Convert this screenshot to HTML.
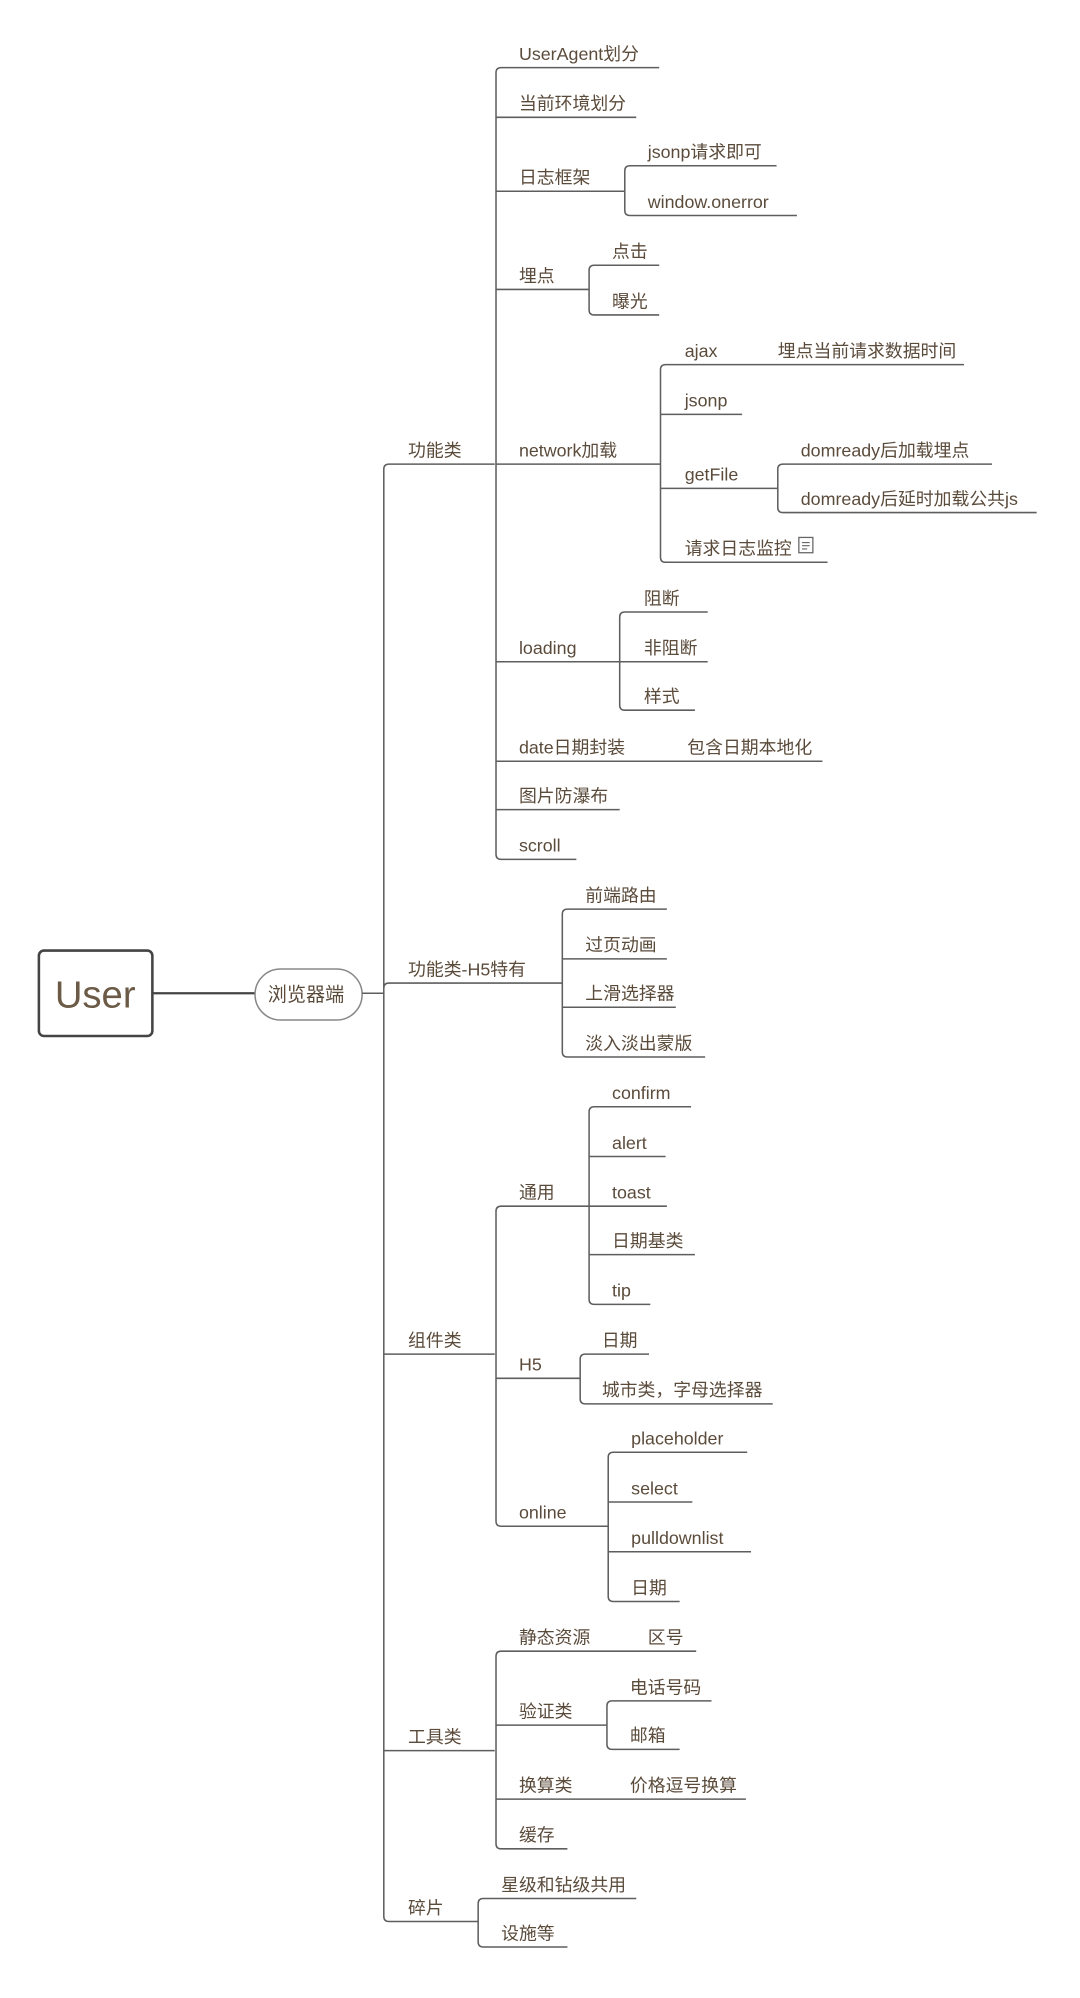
<!DOCTYPE html>
<html><head><meta charset="utf-8"><style>
html,body{margin:0;padding:0;background:#fff}
svg{display:block}
text{font-family:"Liberation Sans","Noto Sans CJK SC",sans-serif;font-size:14px;fill:#5b4b3b}
</style></head><body>
<svg width="1080" height="1998" viewBox="0 0 847 1567" preserveAspectRatio="none">
<g stroke="#5e5e5e" stroke-width="1.2" fill="none">
<!-- root -->
<rect x="30.5" y="745.5" width="89" height="67" rx="4" stroke="#444" stroke-width="2"/>
<line x1="120" y1="779" x2="200" y2="779" stroke="#444" stroke-width="1.8"/>
<rect x="200" y="760" width="84" height="40" rx="20" stroke="#888"/>
<line x1="284" y1="779" x2="301" y2="779"/>
<!-- trunk -->
<path d="M305 364 H388 M301 368 Q301 364 305 364 M301 368 V1503 Q301 1507 305 1507 H375"/>
<path d="M305 771 H441 M301 775 Q301 771 305 771"/>
<line x1="301" y1="1062" x2="388" y2="1062"/>
<line x1="301" y1="1373" x2="388" y2="1373"/>
<!-- 功能类 -->
<path d="M389 57 Q389 53 393 53 H517 M389 57 V670 Q389 674 393 674 H452"/>
<line x1="389" y1="92" x2="499" y2="92"/>
<line x1="389" y1="150" x2="490" y2="150"/>
<path d="M490 134 Q490 130 494 130 H609 M490 134 V165 Q490 169 494 169 H625"/>
<line x1="389" y1="227" x2="462" y2="227"/>
<path d="M462 212 Q462 208 466 208 H517 M462 212 V243 Q462 247 466 247 H517"/>
<line x1="389" y1="364" x2="518" y2="364"/>
<path d="M518 290 Q518 286 522 286 H756 M518 290 V437 Q518 441 522 441 H649"/>
<line x1="518" y1="325" x2="582" y2="325"/>
<line x1="518" y1="383" x2="610" y2="383"/>
<path d="M610 368 Q610 364 614 364 H778 M610 368 V398 Q610 402 614 402 H813"/>
<line x1="389" y1="519" x2="486" y2="519"/>
<path d="M486 484 Q486 480 490 480 H555 M486 484 V553 Q486 557 490 557 H545"/>
<line x1="486" y1="519" x2="555" y2="519"/>
<line x1="389" y1="597" x2="645" y2="597"/>
<line x1="389" y1="635" x2="486" y2="635"/>
<!-- H5特有 -->
<path d="M441 717 Q441 713 445 713 H523 M441 717 V825 Q441 829 445 829 H553"/>
<line x1="441" y1="752" x2="523" y2="752"/>
<line x1="441" y1="790" x2="530" y2="790"/>
<!-- 组件类 -->
<path d="M389 950 Q389 946 393 946 H462 M389 950 V1193 Q389 1197 393 1197 H477"/>
<line x1="389" y1="1081" x2="455" y2="1081"/>
<path d="M462 872 Q462 868 466 868 H542 M462 872 V1019 Q462 1023 466 1023 H510"/>
<line x1="462" y1="907" x2="522" y2="907"/>
<line x1="462" y1="946" x2="523" y2="946"/>
<line x1="462" y1="984" x2="545" y2="984"/>
<path d="M455 1066 Q455 1062 459 1062 H509 M455 1066 V1097 Q455 1101 459 1101 H606"/>
<path d="M477 1143 Q477 1139 481 1139 H586 M477 1143 V1252 Q477 1256 481 1256 H533"/>
<line x1="477" y1="1178" x2="543" y2="1178"/>
<line x1="477" y1="1217" x2="589" y2="1217"/>
<!-- 工具类 -->
<path d="M389 1299 Q389 1295 393 1295 H546 M389 1299 V1446 Q389 1450 393 1450 H445"/>
<line x1="389" y1="1353" x2="476" y2="1353"/>
<path d="M476 1338 Q476 1334 480 1334 H558 M476 1338 V1368 Q476 1372 480 1372 H533"/>
<line x1="389" y1="1411" x2="585" y2="1411"/>
<!-- 碎片 -->
<path d="M375 1493 Q375 1489 379 1489 H499 M375 1493 V1523 Q375 1527 379 1527 H445"/>
<!-- note icon -->
<rect x="626.5" y="421.5" width="11" height="12" stroke="#666" stroke-width="1"/>
<path d="M629 425.5 H635 M629 428 H635 M629 430.5 H633" stroke="#666" stroke-width="0.9"/>
</g>
<text x="43" y="790" style="font-size:30px;fill:#6b5a45">User</text>
<text x="210" y="785" style="font-size:15px">浏览器端</text>
<text x="320" y="358">功能类</text>
<text x="320" y="765">功能类-H5特有</text>
<text x="320" y="1056">组件类</text>
<text x="320" y="1367">工具类</text>
<text x="320" y="1501">碎片</text>
<text x="407" y="47">UserAgent划分</text>
<text x="407" y="86">当前环境划分</text>
<text x="407" y="144">日志框架</text>
<text x="508" y="124">jsonp请求即可</text>
<text x="508" y="163">window.onerror</text>
<text x="407" y="221">埋点</text>
<text x="480" y="202">点击</text>
<text x="480" y="241">曝光</text>
<text x="407" y="358">network加载</text>
<text x="537" y="280">ajax</text>
<text x="610" y="280">埋点当前请求数据时间</text>
<text x="537" y="319">jsonp</text>
<text x="537" y="377">getFile</text>
<text x="628" y="358">domready后加载埋点</text>
<text x="628" y="396">domready后延时加载公共js</text>
<text x="537" y="435">请求日志监控</text>
<text x="407" y="513">loading</text>
<text x="505" y="474">阻断</text>
<text x="505" y="513">非阻断</text>
<text x="505" y="551">样式</text>
<text x="407" y="591">date日期封装</text>
<text x="539" y="591">包含日期本地化</text>
<text x="407" y="629">图片防瀑布</text>
<text x="407" y="668">scroll</text>
<text x="459" y="707">前端路由</text>
<text x="459" y="746">过页动画</text>
<text x="459" y="784">上滑选择器</text>
<text x="459" y="823">淡入淡出蒙版</text>
<text x="407" y="940">通用</text>
<text x="480" y="862">confirm</text>
<text x="480" y="901">alert</text>
<text x="480" y="940">toast</text>
<text x="480" y="978">日期基类</text>
<text x="480" y="1017">tip</text>
<text x="407" y="1075">H5</text>
<text x="472" y="1056">日期</text>
<text x="472" y="1095">城市类，字母选择器</text>
<text x="407" y="1191">online</text>
<text x="495" y="1133">placeholder</text>
<text x="495" y="1172">select</text>
<text x="495" y="1211">pulldownlist</text>
<text x="495" y="1250">日期</text>
<text x="407" y="1289">静态资源</text>
<text x="508" y="1289">区号</text>
<text x="407" y="1347">验证类</text>
<text x="494" y="1328">电话号码</text>
<text x="494" y="1366">邮箱</text>
<text x="407" y="1405">换算类</text>
<text x="494" y="1405">价格逗号换算</text>
<text x="407" y="1444">缓存</text>
<text x="393" y="1483">星级和钻级共用</text>
<text x="393" y="1521">设施等</text>
</svg>
</body></html>
